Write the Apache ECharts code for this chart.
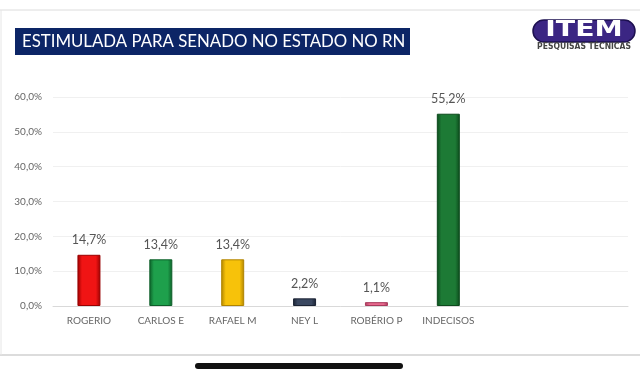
<!DOCTYPE html>
<html>
<head>
<meta charset="utf-8">
<script src="https://cdn.jsdelivr.net/npm/echarts@6/dist/echarts.min.js"></script>
<style>
  html, body { margin: 0; padding: 0; background: #fff; }
  #chart { width: 640px; height: 376px; }
</style>
</head>
<body>
<div id="chart"></div>
<script>
// candidatos (as duas últimas posições ficam vazias, como no gráfico original)
const categories = ['ROGERIO', 'CARLOS E', 'RAFAEL M', 'NEY L', 'ROBÉRIO P', 'INDECISOS', '', ''];
const values = [14.7, 13.4, 13.4, 2.2, 1.1, 55.2, '-', '-'];
// cor base e cor de borda de cada barra
const baseColors = ['#f01414', '#1ea04c', '#f7c20a', '#3a4760', '#e8698e', '#1d7a35', '#ccc', '#ccc'];
const edgeColors = ['#9a0000', '#0c5e28', '#b08400', '#1a2233', '#a83a5c', '#0c4a1c', '#999', '#999'];
const title = 'ESTIMULADA PARA SENADO NO ESTADO NO RN';

function pct(v) {
    return Number(v).toFixed(1).replace('.', ',') + '%';
}

const chartDom = document.getElementById('chart');
const myChart = echarts.init(chartDom);

const data = values.map((v, i) => ({
    value: v,
    itemStyle: {
        color: new echarts.graphic.LinearGradient(0, 0, 1, 0, [
            { offset: 0, color: edgeColors[i] },
            { offset: 0.2, color: baseColors[i] },
            { offset: 0.8, color: baseColors[i] },
            { offset: 1, color: edgeColors[i] }
        ]),
        borderColor: edgeColors[i],
        borderWidth: 1
    }
}));

const option = {
    backgroundColor: '#fff',
    textStyle: { fontFamily: 'Lato, "Open Sans", sans-serif' },
    grid: { left: 53, right: 12, top: 97, bottom: 70 },
    xAxis: {
        type: 'category',
        data: categories,
        axisTick: { show: false },
        axisLine: { lineStyle: { color: '#d9d9d9' } },
        axisLabel: { color: '#666', fontSize: 10, margin: 10, interval: 0 }
    },
    yAxis: {
        type: 'value',
        min: 0,
        max: 60,
        interval: 10,
        axisLine: { show: false },
        axisTick: { show: false },
        splitLine: { lineStyle: { color: '#f0f0f0' } },
        axisLabel: {
            color: '#666', fontSize: 10, margin: 11,
            formatter: v => pct(v)
        }
    },
    series: [{
        type: 'bar',
        data: data,
        barWidth: 23,
        label: {
            show: true,
            position: 'top',
            distance: 8,
            color: '#555',
            fontSize: 12.5,
            formatter: p => pct(p.value)
        }
    }],
    graphic: [
        // moldura da captura
        { type: 'line', shape: { x1: 0, y1: 10, x2: 640, y2: 10 }, style: { stroke: '#dcdcdc', lineWidth: 1 } },
        { type: 'line', shape: { x1: 0, y1: 355, x2: 640, y2: 355 }, style: { stroke: '#dcdcdc', lineWidth: 2 } },
        { type: 'line', shape: { x1: 1, y1: 10, x2: 1, y2: 355 }, style: { stroke: '#e6e6e6', lineWidth: 1 } },
        // caixa do título
        { type: 'rect', shape: { x: 15, y: 28, width: 395, height: 27 }, style: { fill: '#0c2566' } },
        {
            type: 'text', x: 22, y: 42,
            style: { text: title, fill: '#fff', fontSize: 16.8, verticalAlign: 'middle', fontFamily: 'Lato, "Open Sans", sans-serif' }
        },
        // logo ITEM
        { type: 'rect', shape: { x: 533, y: 20, width: 102, height: 22, r: 11 }, style: { fill: '#3b2683', stroke: '#1d1050', lineWidth: 1.5 } },
        {
            type: 'text', x: 584, y: 31, scaleX: 1.35,
            style: { text: 'ITEM', fill: '#fff', fontSize: 21, fontWeight: 900, align: 'center', verticalAlign: 'middle', fontFamily: '"DejaVu Sans", sans-serif' }
        },
        {
            type: 'text', x: 584, y: 47,
            style: { text: 'PESQUISAS TÉCNICAS', fill: '#444', fontSize: 8.5, fontWeight: 'bold', align: 'center', verticalAlign: 'middle', fontFamily: '"DejaVu Sans Condensed", sans-serif' }
        },
        // barra inicial do iPhone
        { type: 'rect', shape: { x: 195, y: 363, width: 208, height: 6, r: 3 }, style: { fill: '#111' } }
    ]
};

option && myChart.setOption(option);
</script>
</body>
</html>
